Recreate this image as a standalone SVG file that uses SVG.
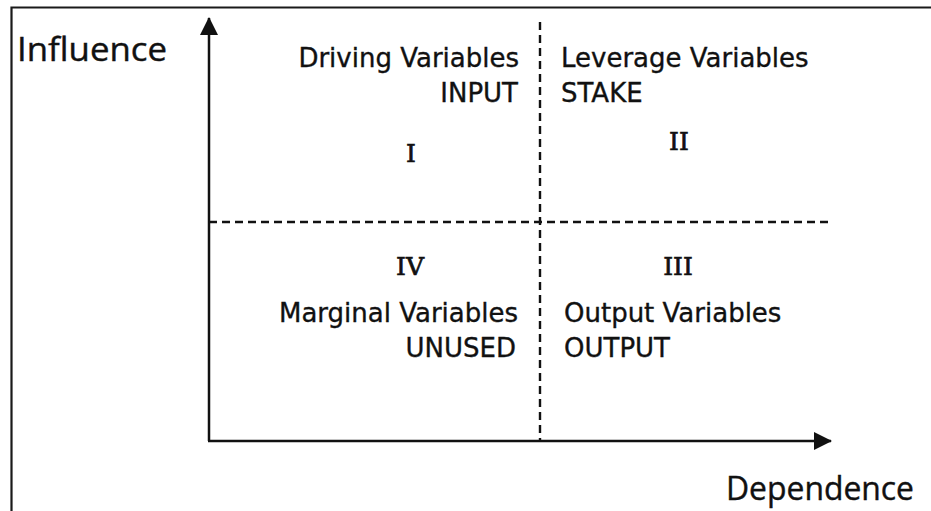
<svg xmlns="http://www.w3.org/2000/svg" width="931" height="511" viewBox="0 0 931 511">
<style>
.frame{fill:none;stroke:#1a1a1a;stroke-width:2.2}
.axis{fill:none;stroke:#111;stroke-width:2.5}
.dash{fill:none;stroke:#111;stroke-width:2.4;stroke-dasharray:8 5}
.lbl{font-family:"DejaVu Sans",Verdana,sans-serif;font-size:26px;fill:#111;stroke:#111;stroke-width:0.35}
.num{font-family:"DejaVu Serif",serif;font-size:25px;fill:#111;stroke:#111;stroke-width:0.7;text-anchor:middle}
.ax{font-family:"Open Sans","DejaVu Sans",sans-serif;font-size:33px;fill:#111;stroke:#111;stroke-width:0.4}
</style>
<defs>
<marker id="arr" viewBox="0 0 18 18" refX="17" refY="9" markerWidth="18" markerHeight="18" markerUnits="userSpaceOnUse" orient="auto">
<path d="M0,0 L18,9 L0,18 Z" fill="#111"/>
</marker>
</defs>
<rect width="931" height="511" fill="#fff"/>
<path class="frame" d="M11.5,511 V7.5 H931"/>
<g id="connectors">
<line class="dash" x1="540" y1="22" x2="540" y2="441"/>
<line class="dash" x1="209" y1="222" x2="832" y2="222"/>
<line class="axis" x1="209" y1="441" x2="209" y2="18" marker-end="url(#arr)"/>
<line class="axis" x1="208" y1="441" x2="831" y2="441" marker-end="url(#arr)"/>
</g>
<g id="axis-influence"><text class="ax" x="17" y="61" textLength="150" lengthAdjust="spacingAndGlyphs">Influence</text></g>
<g id="axis-dependence"><text class="ax" x="726" y="500" textLength="188" lengthAdjust="spacingAndGlyphs">Dependence</text></g>
<g id="q1">
<text class="lbl" x="519" y="67" text-anchor="end">Driving Variables</text>
<text class="lbl" x="518" y="102" text-anchor="end">INPUT</text>
<text class="num" x="411" y="162">I</text>
</g>
<g id="q2">
<text class="lbl" x="561" y="67">Leverage Variables</text>
<text class="lbl" x="561" y="102">STAKE</text>
<text class="num" x="679" y="150">II</text>
</g>
<g id="q3">
<text class="num" x="678" y="275">III</text>
<text class="lbl" x="564" y="322">Output Variables</text>
<text class="lbl" x="564" y="357">OUTPUT</text>
</g>
<g id="q4">
<text class="num" x="410" y="275">IV</text>
<text class="lbl" x="518" y="322" text-anchor="end">Marginal Variables</text>
<text class="lbl" x="516" y="357" text-anchor="end">UNUSED</text>
</g>
</svg>
